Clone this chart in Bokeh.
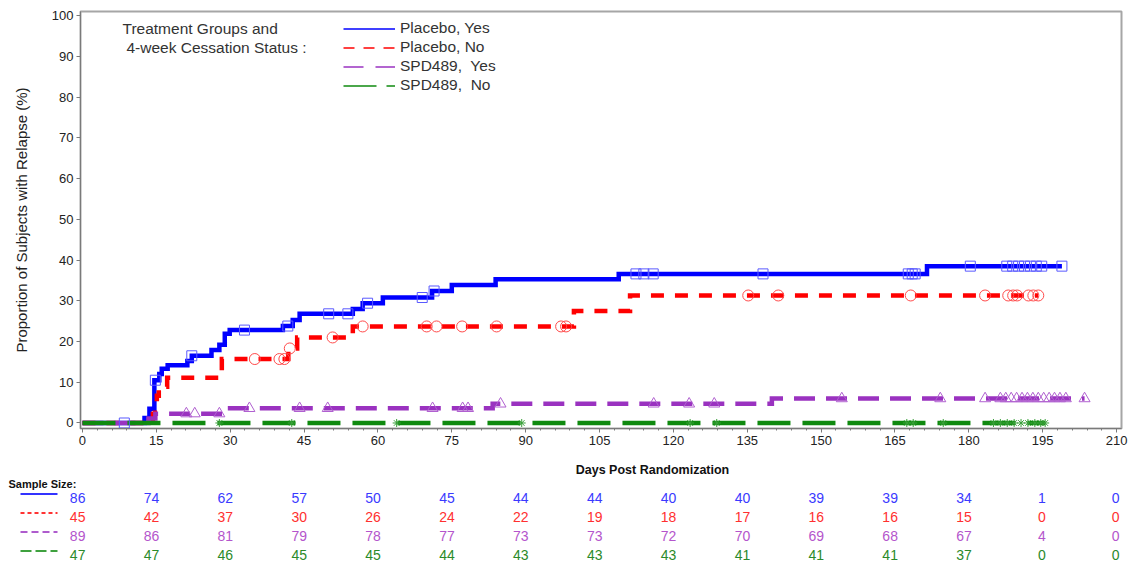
import numpy as np
from bokeh.plotting import figure
from bokeh.models import (Range1d, SingleIntervalTicker, Label, Legend, LegendItem,
                          ColumnDataSource)
from bokeh.layouts import column
from bokeh.core.properties import value
from bokeh.embed import file_html
from bokeh.resources import INLINE

FONT = "Liberation Sans"

# ---------------- data ----------------
series_names = ["Placebo, Yes", "Placebo, No", "SPD489,  Yes", "SPD489,  No"]

blue_days = [0, 12.6, 13.6, 14.6, 15.6, 16.1, 17.3, 21.3, 22.2, 26.2, 27.8, 28.9, 29.9,
             40.7, 42.7, 44.1, 54.9, 56.9, 61.0, 71.0, 75.0, 83.9, 108.9, 171.5, 198.9]
blue_pct = [0, 1.2, 3.5, 10.5, 12.0, 13.3, 14.2, 15.2, 16.5, 17.9, 19.2, 21.9, 22.8,
            23.8, 25.3, 26.8, 28.0, 29.4, 30.8, 32.4, 33.9, 35.3, 36.6, 38.5, 38.5]
blue_cens = [8.5, 14.8, 22.2, 32.9, 41.7, 50.0, 53.9, 57.9, 69.0, 71.4, 112.4, 114.0, 115.9,
             138.2, 167.7, 168.5, 169.1, 180.3, 187.7, 188.9, 190.1, 191.3, 192.5, 193.7,
             194.8, 198.9]

red_days = [0, 14.3, 14.7, 15.1, 15.5, 17.2, 28.3, 41.8, 43.6, 54.9, 99.8, 111.2, 194.1]
red_pct = [0, 2.2, 4.4, 6.7, 8.9, 11.1, 15.7, 18.3, 21.0, 23.7, 27.5, 31.3, 31.3]
red_cens = [35.0, 40.0, 41.0, 42.1, 50.8, 56.9, 69.9, 71.9, 77.1, 84.1, 97.2, 98.2, 135.2,
            141.3, 168.2, 183.3, 188.0, 189.0, 189.8, 192.1, 193.1, 194.1]

purple_days = [0, 13.4, 14.8, 28.5, 83.3, 140.0, 203.5]
purple_pct = [0, 1.1, 2.3, 3.6, 4.7, 6.0, 6.0]
purple_cens = [21.1, 22.8, 27.8, 33.9, 44.1, 49.8, 71.1, 77.2, 78.3, 84.9, 116.0, 123.2,
               128.3, 154.2, 174.2, 183.3, 186.4, 187.5, 188.6, 189.7, 190.8, 191.9, 193.0,
               194.1, 195.2, 196.3, 197.4, 198.5, 199.7, 203.5]

green_days = [0, 195.5]
green_pct = [0, 0]
green_cens = [27.8, 42.5, 63.8, 89.2, 123.4, 128.8, 167.4, 168.7, 174.8, 185.0, 186.4,
              187.8, 189.2, 190.6, 192.0, 193.4, 194.6, 195.5]

table_days = [0, 15, 30, 45, 60, 75, 90, 105, 120, 135, 150, 165, 180, 195, 210]
n_blue = [86, 74, 62, 57, 50, 45, 44, 44, 40, 40, 39, 39, 34, 1, 0]
n_red = [45, 42, 37, 30, 26, 24, 22, 19, 18, 17, 16, 16, 15, 0, 0]
n_purple = [89, 86, 81, 79, 78, 77, 73, 73, 72, 70, 69, 68, 67, 4, 0]
n_green = [47, 47, 46, 45, 45, 44, 43, 43, 43, 41, 41, 41, 37, 0, 0]

# ---------------- styles / layout constants ----------------
line_colors = ["#0000ff", "#ff0000", "#9a32c0", "#0f8a0f"]
marker_colors = ["#5a5aff", "#ff4a4a", "#b060d0", "#3aa03a"]
text_colors = ["#3a3aff", "#ff3030", "#b455cc", "#2a8a2a"]
main_dash = ["solid", "13 11", "21 11", "33 12"]
legend_dash = ["solid", "11 9", "20 12", "33 10"]
table_dash = ["solid", "4 3", "7 4", "11 4"]
markers = ["square", "circle", "triangle", "asterisk"]
marker_sizes = [10, 11, 11, 8]

MAIN_H = 455
TAB_H = 565 - MAIN_H
X0, X1 = -0.4, 211.0
FRAME_L, FRAME_R = 80, 1121
PX_PER_DAY = (FRAME_R - FRAME_L) / (X1 - X0)


def km_at(days, pct, t):
    idx = np.searchsorted(np.asarray(days), np.asarray(t), side="right") - 1
    return np.asarray(pct)[idx]


def px_to_day(px):
    return X0 + (px - FRAME_L) / PX_PER_DAY


# ---------------- main plot ----------------
p = figure(width=1131, height=MAIN_H, x_range=Range1d(X0, X1),
           y_range=Range1d(-1.35, 101.0), output_backend="svg",
           toolbar_location=None, title=None,
           min_border_left=FRAME_L, min_border_right=1131 - FRAME_R, min_border_top=11,
           min_border_bottom=MAIN_H - 428)
p.frame_align = False
p.xgrid.visible = False
p.ygrid.visible = False
p.outline_line_color = "#a6a6a6"
p.outline_line_width = 2
p.background_fill_color = "white"
p.border_fill_color = "white"

p.xaxis.ticker = SingleIntervalTicker(interval=15, num_minor_ticks=5)
p.yaxis.ticker = SingleIntervalTicker(interval=10, num_minor_ticks=0)
for ax in (p.xaxis, p.yaxis):
    ax.axis_line_color = "#7a7a7a"
    ax.major_tick_line_color = "#7a7a7a"
    ax.minor_tick_line_color = "#7a7a7a"
    ax.major_tick_out = 4
    ax.major_tick_in = 0
    ax.minor_tick_out = 2
    ax.minor_tick_in = 0
    ax.major_label_text_font = FONT
    ax.major_label_text_font_size = "13px"
    ax.major_label_text_color = "#222222"
    ax.major_label_standoff = 3
p.yaxis.minor_tick_line_color = None
p.yaxis.axis_label = "Proportion of Subjects with Relapse (%)"
p.yaxis.axis_label_text_font = FONT
p.yaxis.axis_label_text_font_size = "15px"
p.yaxis.axis_label_text_font_style = "normal"
p.yaxis.axis_label_text_color = "#222222"
p.yaxis.axis_label_standoff = 19

curves = [(blue_days, blue_pct, blue_cens), (red_days, red_pct, red_cens),
          (purple_days, purple_pct, purple_cens), (green_days, green_pct, green_cens)]

for i, (d, pc, c) in enumerate(curves):
    p.step(x=d, y=pc, mode="after", line_color=line_colors[i], line_width=4.5,
           line_dash=main_dash[i], line_cap="butt", line_join="miter")
for i, (d, pc, c) in enumerate(curves):
    src = ColumnDataSource(dict(x=c, y=km_at(d, pc, c)))
    p.scatter(x="x", y="y", source=src, marker=markers[i], size=marker_sizes[i],
              fill_color=None, line_color=marker_colors[i], line_width=1)

# legend (thin line proxies, not drawn in the plot area)
leg_items = []
for i, name in enumerate(series_names):
    d, pc, c = curves[i]
    r = p.line(x=d, y=pc, line_color=line_colors[i], line_width=2,
               line_dash=legend_dash[i], line_alpha=0.75, visible=False)
    leg_items.append(LegendItem(label=name, renderers=[r]))
legend = Legend(items=leg_items, location=(263, 333.5), padding=0, margin=0, spacing=0,
                glyph_width=52, glyph_height=19, label_height=19, label_standoff=5,
                label_text_font=FONT, label_text_font_size="15.5px",
                label_text_color="#333333", border_line_alpha=0,
                background_fill_alpha=0, inactive_fill_alpha=0)
p.add_layout(legend)

p.add_layout(Label(x=42, y=400, x_units="screen", y_units="screen",
                   text="Treatment Groups and", text_baseline="middle",
                   text_font=FONT, text_font_size="15.5px", text_color="#333333"))
p.add_layout(Label(x=46, y=381.5, x_units="screen", y_units="screen",
                   text="4-week Cessation Status :", text_baseline="middle",
                   text_font=FONT, text_font_size="15.5px", text_color="#333333"))

# ---------------- axis title + sample size table (second figure) ----------------
tab = figure(width=1131, height=TAB_H, x_range=Range1d(px_to_day(0), px_to_day(1131)),
             y_range=Range1d(TAB_H, 0), output_backend="svg",
             toolbar_location=None, title=None, min_border=0,
             min_border_left=0, min_border_right=0, min_border_top=0, min_border_bottom=0,
             x_axis_location=None, y_axis_location=None)
tab.frame_align = False
tab.grid.visible = False
tab.outline_line_color = None
tab.background_fill_color = "white"
tab.border_fill_color = "white"

# pixel rows inside the table figure (from its top)
TITLE_Y = 469 - MAIN_H
SS_Y = 483.5 - MAIN_H
ROW_Y = [497.5 - MAIN_H + 19 * k for k in range(4)]

tab.text(x=[px_to_day(652)], y=[TITLE_Y], text=["Days Post Randomization"],
         text_align="center", text_baseline="middle", text_font=value(FONT),
         text_font_size="12.5px", text_font_style="bold", text_color="#111111")
tab.text(x=[px_to_day(8)], y=[SS_Y], text=["Sample Size:"], text_align="left",
         text_baseline="middle", text_font=value(FONT), text_font_size="11px",
         text_font_style="bold", text_color="#111111")

counts = [n_blue, n_red, n_purple, n_green]
for r, cnt in enumerate(counts):
    src = ColumnDataSource(dict(x=[d + 0.6 for d in table_days], y=[ROW_Y[r]] * len(cnt),
                                t=[str(v) for v in cnt]))
    tab.text(x="x", y="y", text="t", source=src, text_align="right",
             text_baseline="middle", text_font=value(FONT), text_font_size="14px",
             text_color=text_colors[r])
    tab.line(x=[px_to_day(20), px_to_day(57)], y=[ROW_Y[r] - 4] * 2,
             line_color=line_colors[r], line_width=2, line_dash=table_dash[r],
             line_alpha=0.8)

layout = column(p, tab, spacing=0)
open("out.html", "w").write(file_html(layout, INLINE))
